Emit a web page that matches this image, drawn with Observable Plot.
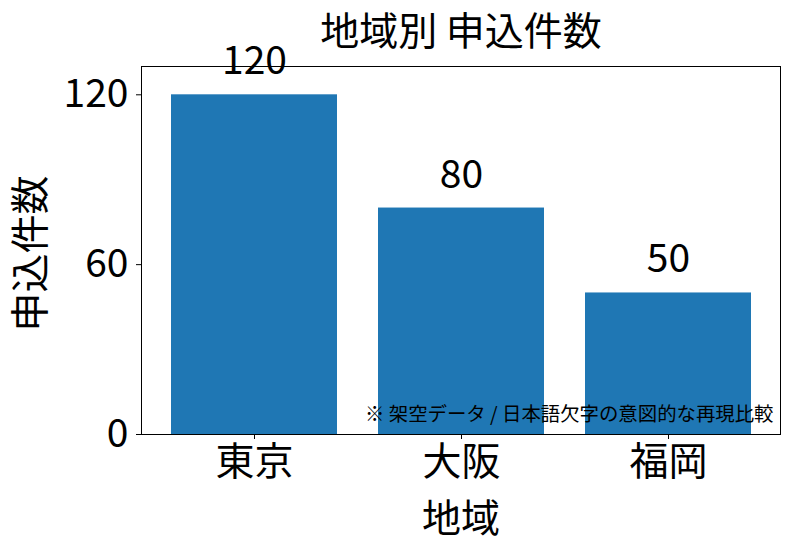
<!DOCTYPE html>
<html><head><meta charset="utf-8">
<script src="https://cdn.jsdelivr.net/npm/d3@7"></script>
<script src="https://cdn.jsdelivr.net/npm/@observablehq/plot@0.6"></script>
<style>
body{margin:0;background:#fff}
#wrap{position:relative;width:790px;height:550px}
#title{position:absolute;left:0;top:0;width:790px;height:56px;line-height:56px;font-family:'Noto Sans CJK JP','Noto Sans',sans-serif;font-size:39px;color:#000;white-space:nowrap;pointer-events:none}
#title span{position:absolute;left:461px;transform:translateX(-50%);top:0}
#chart svg{display:block}
</style>
</head><body><div id="wrap"><div id="chart"></div><div id="title"><span></span></div></div>
<script>
const regions = ["東京", "大阪", "福岡"];
const counts = [120, 80, 50];
const yTicks = [0, 60, 120];
const titleText = "地域別 申込件数";
const xLabel = "地域";
const yLabel = "申込件数";
const noteText = "※ 架空データ / 日本語欠字の意図的な再現比較";

document.querySelector("#title span").textContent = titleText;

const data = regions.map((r, i) => ({region: r, count: counts[i]}));
const FONT = "'Noto Sans CJK JP', 'Noto Sans', sans-serif";

const chart = Plot.plot({
  width: 790, height: 550,
  marginLeft: 141, marginRight: 10, marginTop: 66, marginBottom: 116,
  style: {fontFamily: FONT, fontSize: "39px", color: "#000", background: "transparent"},
  x: {domain: regions, paddingInner: 0.2, paddingOuter: 0.14},
  y: {domain: [0, 130]},
  marks: [
    Plot.barY(data, {x: "region", y: "count", fill: "#1f77b4"}),
    Plot.frame({stroke: "#000", strokeWidth: 1}),
    Plot.axisY({ticks: yTicks, tickSize: 5, tickPadding: 8, label: null, fontSize: 39, stroke: "#000"}),
    Plot.axisX({tickSize: 5, tickPadding: 8, label: null, fontSize: 39, stroke: "#000"}),
    Plot.text(data, {x: "region", y: "count", text: d => String(d.count), dy: -33, fontSize: 39, lineAnchor: "middle", fill: "#000"}),
    Plot.text([xLabel], {frameAnchor: "bottom", dy: 85, fontSize: 39, lineAnchor: "middle", fill: "#000"}),
    Plot.text([yLabel], {frameAnchor: "left", dx: -110, dy: 3, rotate: -90, fontSize: 39, textAnchor: "middle", lineAnchor: "middle", fill: "#000"}),
    Plot.text([noteText], {frameAnchor: "bottom-right", dx: -7, dy: -20, fontSize: 19.4, textAnchor: "end", lineAnchor: "middle", fill: "#000"})
  ]
});
document.getElementById("chart").appendChild(chart);
</script></body></html>
